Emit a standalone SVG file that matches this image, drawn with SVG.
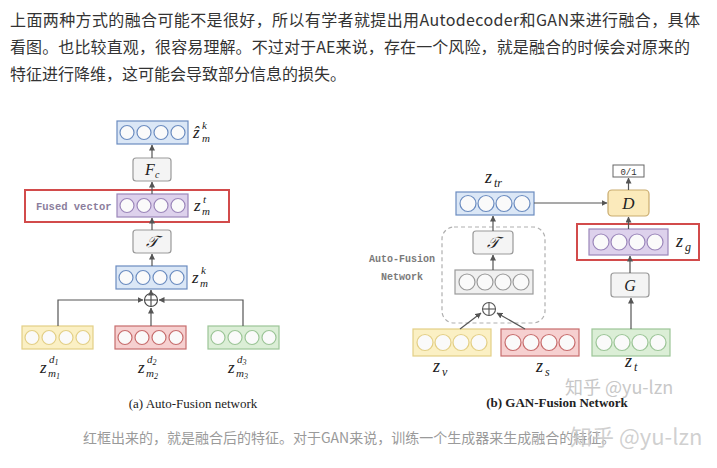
<svg xmlns="http://www.w3.org/2000/svg" width="717" height="468" viewBox="0 0 717 468">
<defs>
<marker id="ah" viewBox="0 0 6 6" refX="5.5" refY="3" markerWidth="5" markerHeight="5" orient="auto">
<path d="M0,0 L6,3 L0,6 z" fill="#555"/>
</marker>
<g id="c4s">
<circle cx="10" cy="0" r="7"/><circle cx="27" cy="0" r="7"/><circle cx="44" cy="0" r="7"/><circle cx="61" cy="0" r="7"/>
</g>
<g id="c4l">
<circle cx="12" cy="0" r="8"/><circle cx="30" cy="0" r="8"/><circle cx="48" cy="0" r="8"/><circle cx="66" cy="0" r="8"/>
</g>
</defs>
<style>
.para{font-family:"Noto Sans CJK SC","Noto Sans",sans-serif;font-size:16px;fill:#333}
.cap2{font-family:"Noto Sans CJK SC","Noto Sans",sans-serif;font-size:14px;fill:#9a9a9a}
.wm{font-family:"Noto Sans CJK SC","Noto Sans",sans-serif;fill:#c8c8c8}
.m{font-family:"Liberation Serif",serif;font-style:italic;fill:#222}
.mono{font-family:"Liberation Mono",monospace;font-weight:bold}
.blue{fill:#dbe7f6;stroke:#6b8cc0;stroke-width:1.2}
.yel{fill:#fbf0c4;stroke:#e3cf86;stroke-width:1.2}
.red{fill:#f6d0d0;stroke:#c76d6d;stroke-width:1.2}
.grn{fill:#dbeed6;stroke:#9cc597;stroke-width:1.2}
.pur{fill:#ddd1ec;stroke:#9b86ba;stroke-width:1.2}
.gry{fill:#f0f0f0;stroke:#9a9a9a;stroke-width:1.2}
.cw{fill:#fafafa}
.frame{fill:#fff;stroke:#d24b4b;stroke-width:2}
.op{fill:#f4f4f4;stroke:#999;stroke-width:1.2}
.conn line,.conn polyline{stroke:#555;stroke-width:1.2;fill:none;marker-end:url(#ah)}
.cap{font-family:"Liberation Serif",serif;font-size:13px;fill:#222;text-anchor:middle}
</style>
<rect width="717" height="468" fill="#fff"/>

<g id="paragraph">
<text class="para" x="10" y="26" textLength="690" lengthAdjust="spacing">上面两种方式的融合可能不是很好，所以有学者就提出用Autodecoder和GAN来进行融合，具体</text>
<text class="para" x="10" y="53" textLength="680" lengthAdjust="spacing">看图。也比较直观，很容易理解。不过对于AE来说，存在一个风险，就是融合的时候会对原来的</text>
<text class="para" x="10" y="80">特征进行降维，这可能会导致部分信息的损失。</text>
</g>

<!-- Left: Auto-Fusion network -->
<g id="a-frame"><rect class="frame" x="25" y="190" width="204" height="32"/>
<text class="mono" x="36" y="210" font-size="10.5" fill="#8b7d9c">Fused vector</text></g>

<g id="a-zhat">
<rect class="blue" x="117" y="121" width="71" height="23"/>
<use href="#c4s" x="117" y="132.5" class="cw" stroke="#6b8cc0" stroke-width="1.2"/>
<text class="m" x="193" y="138" font-size="17">ẑ</text>
<text class="m" x="202" y="129" font-size="11">k</text>
<text class="m" x="202" y="142" font-size="11">m</text>
</g>
<g id="a-Fc">
<rect class="op" x="133" y="158" width="38" height="23" rx="3"/>
<text class="m" x="145" y="175" font-size="16">F</text>
<text class="m" x="155" y="178" font-size="10">c</text>
</g>
<g id="a-zt">
<rect class="pur" x="117" y="194" width="71" height="23"/>
<use href="#c4s" x="117" y="205.5" class="cw" stroke="#9b86ba" stroke-width="1.2"/>
<text class="m" x="194" y="211" font-size="17">z</text>
<text class="m" x="203" y="203" font-size="11">t</text>
<text class="m" x="202" y="215" font-size="11">m</text>
</g>
<g id="a-T">
<rect class="op" x="133" y="230" width="38" height="23" rx="3"/>
<text class="m" x="152" y="247" font-size="16" text-anchor="middle">𝒯</text>
</g>
<g id="a-zk">
<rect class="blue" x="116" y="266" width="71" height="23"/>
<use href="#c4s" x="116" y="277.5" class="cw" stroke="#6b8cc0" stroke-width="1.2"/>
<text class="m" x="192" y="283" font-size="17">z</text>
<text class="m" x="201" y="274" font-size="11">k</text>
<text class="m" x="200" y="287" font-size="11">m</text>
</g>
<g id="a-plus">
<circle cx="151" cy="300" r="6.5" fill="#fff" stroke="#444" stroke-width="1.1"/>
<line x1="144.5" y1="300" x2="157.5" y2="300" stroke="#444" stroke-width="1.1"/>
<line x1="151" y1="293.5" x2="151" y2="306.5" stroke="#444" stroke-width="1.1"/>
</g>
<g id="a-z1">
<rect class="yel" x="22" y="326" width="71" height="23"/>
<use href="#c4s" x="22" y="337.5" class="cw" stroke="#e3cf86" stroke-width="1.2"/>
<text class="m" x="40" y="373" font-size="17">z</text>
<text class="m" x="49" y="363" font-size="11">d<tspan font-size="8" dy="2">1</tspan></text>
<text class="m" x="48" y="377" font-size="11">m<tspan font-size="8" dy="2">1</tspan></text>
</g>
<g id="a-z2">
<rect class="red" x="115" y="326" width="71" height="23"/>
<use href="#c4s" x="115" y="337.5" class="cw" stroke="#c76d6d" stroke-width="1.2"/>
<text class="m" x="138" y="373" font-size="17">z</text>
<text class="m" x="147" y="363" font-size="11">d<tspan font-size="8" dy="2">2</tspan></text>
<text class="m" x="146" y="377" font-size="11">m<tspan font-size="8" dy="2">2</tspan></text>
</g>
<g id="a-z3">
<rect class="grn" x="208" y="326" width="71" height="23"/>
<use href="#c4s" x="208" y="337.5" class="cw" stroke="#9cc597" stroke-width="1.2"/>
<text class="m" x="228" y="373" font-size="17">z</text>
<text class="m" x="237" y="363" font-size="11">d<tspan font-size="8" dy="2">3</tspan></text>
<text class="m" x="236" y="377" font-size="11">m<tspan font-size="8" dy="2">3</tspan></text>
</g>
<text class="cap" x="193" y="408">(a) Auto-Fusion network</text>

<!-- Right: GAN-Fusion network -->
<g id="b-afbox">
<rect x="442" y="227" width="103" height="96" rx="12" fill="none" stroke="#b0b0b0" stroke-width="1.2" stroke-dasharray="4 3"/>
<text class="mono" x="402" y="262" font-size="10" fill="#7a7a7a" text-anchor="middle">Auto-Fusion</text>
<text class="mono" x="402" y="280" font-size="10" fill="#7a7a7a" text-anchor="middle">Network</text>
</g>
<g id="b-ztr">
<rect class="blue" x="456" y="192" width="78" height="23"/>
<use href="#c4l" x="456" y="203.5" class="cw" stroke="#6b8cc0" stroke-width="1.2"/>
<text class="m" x="485" y="183" font-size="18">z</text>
<text class="m" x="494" y="187" font-size="12">tr</text>
</g>
<g id="b-T">
<rect class="op" x="473" y="231" width="40" height="23" rx="3"/>
<text class="m" x="493" y="248" font-size="16" text-anchor="middle">𝒯</text>
</g>
<g id="b-gray">
<rect class="gry" x="455" y="270" width="78" height="24"/>
<use href="#c4l" x="455" y="282" class="cw" stroke="#9a9a9a" stroke-width="1.2"/>
</g>
<g id="b-plus">
<circle cx="489" cy="309" r="6.5" fill="#fff" stroke="#555" stroke-width="1.1"/>
<line x1="482.5" y1="309" x2="495.5" y2="309" stroke="#555" stroke-width="1.1"/>
<line x1="489" y1="302.5" x2="489" y2="315.5" stroke="#555" stroke-width="1.1"/>
</g>
<g id="b-zv">
<rect class="yel" x="413" y="329" width="78" height="27"/>
<use href="#c4l" x="413" y="342.5" class="cw" stroke="#e3cf86" stroke-width="1.2"/>
<text class="m" x="433" y="372" font-size="18">z</text>
<text class="m" x="442" y="376" font-size="12">v</text>
</g>
<g id="b-zs">
<rect class="red" x="501" y="329" width="78" height="27"/>
<use href="#c4l" x="501" y="342.5" class="cw" stroke="#c76d6d" stroke-width="1.2"/>
<text class="m" x="536" y="372" font-size="18">z</text>
<text class="m" x="545" y="376" font-size="12">s</text>
</g>
<g id="b-zt">
<rect class="grn" x="592" y="329" width="78" height="27"/>
<use href="#c4l" x="592" y="342.5" class="cw" stroke="#9cc597" stroke-width="1.2"/>
<text class="m" x="625" y="367" font-size="18">z</text>
<text class="m" x="634" y="371" font-size="12">t</text>
</g>
<g id="b-G">
<rect class="op" x="611" y="273" width="38" height="24" rx="3"/>
<text class="m" x="630" y="291" font-size="16" text-anchor="middle">G</text>
</g>
<g id="b-zg">
<rect class="frame" x="577" y="224" width="122" height="36"/>
<rect class="pur" x="589" y="229" width="79" height="26"/>
<use href="#c4l" x="589" y="242" class="cw" stroke="#9b86ba" stroke-width="1.2"/>
<text class="m" x="676" y="247" font-size="18">z</text>
<text class="m" x="685" y="251" font-size="12">g</text>
</g>
<g id="b-D">
<rect x="608" y="190" width="41" height="26" rx="4" fill="#fbeabb" stroke="#c9ab6e" stroke-width="1.2"/>
<text class="m" x="628.5" y="209" font-size="17" text-anchor="middle">D</text>
</g>
<g id="b-out">
<rect x="613" y="165" width="31" height="12" fill="#fff" stroke="#666" stroke-width="1"/>
<text x="628.5" y="174.5" font-family="Liberation Mono, monospace" font-size="9" fill="#333" text-anchor="middle">0/1</text>
</g>
<text class="cap" x="557" y="407" font-weight="bold">(b) GAN-Fusion Network</text>

<g class="conn" id="connectors">
<line x1="152" y1="158" x2="152" y2="145"/>
<line x1="152" y1="194" x2="152" y2="182"/>
<line x1="152" y1="230" x2="152" y2="218"/>
<line x1="152" y1="266" x2="152" y2="254"/>
<line x1="151" y1="293.5" x2="151" y2="290"/>
<polyline points="58,326 58,300 143,300"/>
<polyline points="243,326 243,300 159,300"/>
<line x1="151" y1="326" x2="151" y2="308"/>
<line x1="534" y1="203" x2="607" y2="203"/>
<line x1="493" y1="231" x2="493" y2="216"/>
<line x1="493" y1="270" x2="493" y2="255"/>
<line x1="460" y1="329" x2="481" y2="313"/>
<line x1="525" y1="329" x2="497" y2="313"/>
<line x1="631" y1="329" x2="631" y2="298"/>
<line x1="630" y1="273" x2="630" y2="256"/>
<line x1="628.5" y1="229" x2="628.5" y2="217"/>
<line x1="628.5" y1="190" x2="628.5" y2="178"/>
</g>

<text class="wm" x="565" y="394" font-size="18">知乎 @yu-lzn</text>
<text class="cap2" x="83" y="443">红框出来的，就是融合后的特征。对于GAN来说，训练一个生成器来生成融合的特征。</text>
<text class="wm" x="570" y="445" font-size="22" fill-opacity="0.85">知乎 @yu-lzn</text>
</svg>
